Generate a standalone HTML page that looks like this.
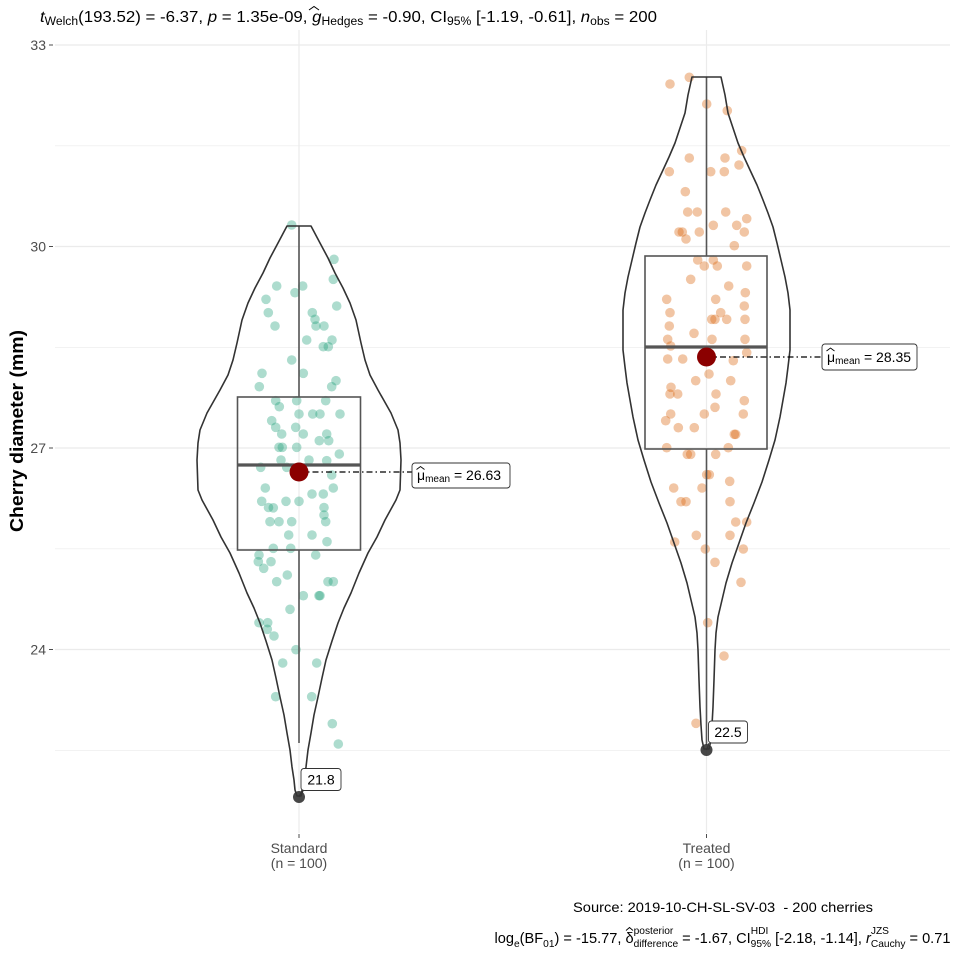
<!DOCTYPE html>
<html><head><meta charset="utf-8"><style>
html,body{margin:0;padding:0;background:#fff;}
svg{display:block;font-family:"Liberation Sans",Arial,sans-serif;}
</style></head><body>
<svg width="960" height="960" viewBox="0 0 960 960" xmlns="http://www.w3.org/2000/svg">
<rect width="960" height="960" fill="#fff"/>
<!-- grid -->
<g stroke="#ebebeb" fill="none">
<g stroke-width="0.6">
<line x1="55" y1="145.8" x2="950" y2="145.8"/>
<line x1="55" y1="347.3" x2="950" y2="347.3"/>
<line x1="55" y1="548.8" x2="950" y2="548.8"/>
<line x1="55" y1="750.3" x2="950" y2="750.3"/>
</g>
<g stroke-width="1.2">
<line x1="55" y1="45" x2="950" y2="45"/>
<line x1="55" y1="246.5" x2="950" y2="246.5"/>
<line x1="55" y1="448" x2="950" y2="448"/>
<line x1="55" y1="649.5" x2="950" y2="649.5"/>
<line x1="299" y1="30" x2="299" y2="833"/>
<line x1="706.5" y1="30" x2="706.5" y2="833"/>
</g>
</g>
<!-- ticks -->
<g stroke="#4d4d4d" stroke-width="1">
<line x1="49" y1="45" x2="53" y2="45"/>
<line x1="49" y1="246.5" x2="53" y2="246.5"/>
<line x1="49" y1="448" x2="53" y2="448"/>
<line x1="49" y1="649.5" x2="53" y2="649.5"/>
<line x1="299" y1="834" x2="299" y2="838"/>
<line x1="706.5" y1="834" x2="706.5" y2="838"/>
</g>
<g font-size="14" fill="#4d4d4d" text-anchor="end">
<text x="46" y="50">33</text>
<text x="46" y="251.5">30</text>
<text x="46" y="453">27</text>
<text x="46" y="654.5">24</text>
</g>
<g font-size="14" fill="#4d4d4d" text-anchor="middle">
<text x="299" y="853">Standard</text>
<text x="299" y="868">(n = 100)</text>
<text x="706.5" y="853">Treated</text>
<text x="706.5" y="868">(n = 100)</text>
</g>
<text transform="translate(23,431) rotate(-90)" text-anchor="middle" font-size="18" font-weight="bold" fill="#000" textLength="202" lengthAdjust="spacingAndGlyphs">Cherry diameter (mm)</text>

<!-- Standard points -->
<g fill="#1B9E77" fill-opacity="0.36">
<circle cx="291.7" cy="225" r="4.8"/><circle cx="334" cy="259.3" r="4.8"/><circle cx="333.3" cy="279.3" r="4.8"/><circle cx="276.7" cy="286" r="4.8"/><circle cx="295" cy="292.7" r="4.8"/><circle cx="302.7" cy="286" r="4.8"/><circle cx="266" cy="299.3" r="4.8"/><circle cx="336.7" cy="306" r="4.8"/><circle cx="268.3" cy="312.7" r="4.8"/><circle cx="312.3" cy="312.7" r="4.8"/><circle cx="315" cy="319.3" r="4.8"/><circle cx="316" cy="326" r="4.8"/><circle cx="324" cy="326" r="4.8"/><circle cx="275" cy="326" r="4.8"/><circle cx="306.7" cy="340" r="4.8"/><circle cx="332" cy="340" r="4.8"/><circle cx="323.3" cy="346.7" r="4.8"/><circle cx="328.3" cy="346.7" r="4.8"/><circle cx="291.7" cy="360" r="4.8"/><circle cx="262" cy="373.3" r="4.8"/><circle cx="303.3" cy="373.3" r="4.8"/><circle cx="336" cy="380.7" r="4.8"/><circle cx="259.3" cy="386.7" r="4.8"/><circle cx="331.7" cy="386.7" r="4.8"/><circle cx="275.7" cy="400.7" r="4.8"/><circle cx="296.7" cy="400.7" r="4.8"/><circle cx="325.7" cy="400.7" r="4.8"/><circle cx="279.3" cy="406.7" r="4.8"/><circle cx="299" cy="414" r="4.8"/><circle cx="312.7" cy="414" r="4.8"/><circle cx="320" cy="414" r="4.8"/><circle cx="340" cy="414" r="4.8"/><circle cx="271.7" cy="420.7" r="4.8"/><circle cx="275.7" cy="427.3" r="4.8"/><circle cx="295.7" cy="427.3" r="4.8"/><circle cx="281.7" cy="434" r="4.8"/><circle cx="303.3" cy="434" r="4.8"/><circle cx="326.7" cy="434" r="4.8"/><circle cx="319.3" cy="440.7" r="4.8"/><circle cx="328.7" cy="440.7" r="4.8"/><circle cx="279" cy="447.3" r="4.8"/><circle cx="282.3" cy="447.3" r="4.8"/><circle cx="296.7" cy="447.3" r="4.8"/><circle cx="339.3" cy="454" r="4.8"/><circle cx="281" cy="460" r="4.8"/><circle cx="309" cy="460" r="4.8"/><circle cx="326.7" cy="460.7" r="4.8"/><circle cx="260.7" cy="467.3" r="4.8"/><circle cx="286.7" cy="467.3" r="4.8"/><circle cx="331.7" cy="475" r="4.8"/><circle cx="265.3" cy="488" r="4.8"/><circle cx="312" cy="494" r="4.8"/><circle cx="323.3" cy="494" r="4.8"/><circle cx="333.3" cy="488" r="4.8"/><circle cx="261.7" cy="501.3" r="4.8"/><circle cx="286" cy="501.3" r="4.8"/><circle cx="299" cy="501.3" r="4.8"/><circle cx="268.5" cy="507.5" r="4.8"/><circle cx="273.3" cy="507.8" r="4.8"/><circle cx="324" cy="507.5" r="4.8"/>
<circle cx="324" cy="515" r="4.8"/><circle cx="270" cy="521.7" r="4.8"/><circle cx="279" cy="521.7" r="4.8"/><circle cx="291.7" cy="521.7" r="4.8"/><circle cx="325.7" cy="521.7" r="4.8"/><circle cx="288.7" cy="535" r="4.8"/><circle cx="312" cy="535" r="4.8"/><circle cx="327" cy="541.7" r="4.8"/><circle cx="273.3" cy="548.3" r="4.8"/><circle cx="290.7" cy="548.3" r="4.8"/><circle cx="259" cy="555" r="4.8"/><circle cx="315.7" cy="555" r="4.8"/><circle cx="258.3" cy="561.7" r="4.8"/><circle cx="271" cy="561.7" r="4.8"/><circle cx="263.7" cy="568.3" r="4.8"/><circle cx="287.3" cy="575" r="4.8"/><circle cx="276.7" cy="581.7" r="4.8"/><circle cx="328" cy="581.7" r="4.8"/><circle cx="333.3" cy="581.7" r="4.8"/><circle cx="303.3" cy="595.7" r="4.8"/><circle cx="319" cy="595.7" r="4.8"/><circle cx="320" cy="595.7" r="4.8"/><circle cx="290" cy="609.3" r="4.8"/><circle cx="259" cy="622.7" r="4.8"/><circle cx="267.7" cy="622.7" r="4.8"/><circle cx="267.3" cy="629.3" r="4.8"/><circle cx="274" cy="636" r="4.8"/><circle cx="296" cy="649.7" r="4.8"/><circle cx="282.7" cy="663" r="4.8"/><circle cx="316.7" cy="663" r="4.8"/><circle cx="275.7" cy="696.7" r="4.8"/><circle cx="311.7" cy="696.7" r="4.8"/><circle cx="332.3" cy="723.7" r="4.8"/><circle cx="338.3" cy="744" r="4.8"/>
</g>
<!-- Treated points -->
<g fill="#D95F02" fill-opacity="0.36">
<circle cx="670" cy="84" r="4.8"/><circle cx="689.3" cy="77.3" r="4.8"/><circle cx="706.7" cy="104" r="4.8"/><circle cx="727.3" cy="110.7" r="4.8"/><circle cx="741.7" cy="150.7" r="4.8"/><circle cx="689.3" cy="158" r="4.8"/><circle cx="725" cy="158" r="4.8"/><circle cx="669.3" cy="171.7" r="4.8"/><circle cx="710.7" cy="171.7" r="4.8"/><circle cx="724.3" cy="171.7" r="4.8"/><circle cx="739" cy="165" r="4.8"/><circle cx="685.3" cy="191.7" r="4.8"/><circle cx="687.7" cy="212" r="4.8"/><circle cx="697.3" cy="212" r="4.8"/><circle cx="725.7" cy="212" r="4.8"/><circle cx="746.7" cy="218.7" r="4.8"/><circle cx="713.3" cy="225.3" r="4.8"/><circle cx="736.7" cy="225.3" r="4.8"/><circle cx="679" cy="232" r="4.8"/><circle cx="682.3" cy="232" r="4.8"/><circle cx="699.3" cy="232" r="4.8"/><circle cx="744.3" cy="232" r="4.8"/><circle cx="686" cy="239" r="4.8"/><circle cx="734.3" cy="245.7" r="4.8"/><circle cx="697.7" cy="260" r="4.8"/><circle cx="704.3" cy="266" r="4.8"/><circle cx="713.3" cy="260" r="4.8"/><circle cx="717.3" cy="266" r="4.8"/><circle cx="746.7" cy="266" r="4.8"/><circle cx="690.7" cy="279.3" r="4.8"/><circle cx="728.7" cy="286" r="4.8"/><circle cx="745.3" cy="292.7" r="4.8"/><circle cx="666.7" cy="299.3" r="4.8"/><circle cx="715.7" cy="299.3" r="4.8"/><circle cx="744.3" cy="306" r="4.8"/><circle cx="670" cy="312.7" r="4.8"/><circle cx="720.7" cy="312.7" r="4.8"/><circle cx="711.7" cy="319.3" r="4.8"/><circle cx="715" cy="319.3" r="4.8"/><circle cx="726.7" cy="319.3" r="4.8"/><circle cx="745" cy="319.3" r="4.8"/><circle cx="669.3" cy="326" r="4.8"/><circle cx="694" cy="333.3" r="4.8"/><circle cx="667.7" cy="339.3" r="4.8"/><circle cx="712" cy="339.3" r="4.8"/><circle cx="745" cy="339.3" r="4.8"/><circle cx="670.7" cy="346" r="4.8"/><circle cx="746.7" cy="352.7" r="4.8"/><circle cx="667.7" cy="359" r="4.8"/><circle cx="682.7" cy="359" r="4.8"/><circle cx="733.3" cy="360.7" r="4.8"/><circle cx="709" cy="374" r="4.8"/><circle cx="695.7" cy="380.7" r="4.8"/><circle cx="730.7" cy="380.7" r="4.8"/><circle cx="671" cy="387.3" r="4.8"/><circle cx="670" cy="394" r="4.8"/><circle cx="677.7" cy="394" r="4.8"/><circle cx="716" cy="394" r="4.8"/><circle cx="744.3" cy="400.7" r="4.8"/><circle cx="715" cy="407.3" r="4.8"/><circle cx="670.7" cy="414" r="4.8"/><circle cx="704.3" cy="414" r="4.8"/><circle cx="743.3" cy="414" r="4.8"/><circle cx="665.7" cy="420.7" r="4.8"/><circle cx="678.3" cy="427.7" r="4.8"/><circle cx="694.3" cy="427.7" r="4.8"/><circle cx="734.3" cy="434.3" r="4.8"/><circle cx="735.7" cy="434.3" r="4.8"/><circle cx="666.7" cy="447.7" r="4.8"/><circle cx="728.3" cy="447.7" r="4.8"/><circle cx="687.3" cy="454.3" r="4.8"/><circle cx="690.7" cy="454.3" r="4.8"/><circle cx="715.7" cy="454.3" r="4.8"/><circle cx="706.7" cy="474.7" r="4.8"/><circle cx="709.3" cy="474.7" r="4.8"/><circle cx="673.7" cy="488" r="4.8"/><circle cx="702" cy="488" r="4.8"/><circle cx="729.7" cy="481.3" r="4.8"/><circle cx="681" cy="501.7" r="4.8"/><circle cx="686" cy="501.7" r="4.8"/><circle cx="730" cy="501.7" r="4.8"/><circle cx="735.7" cy="522" r="4.8"/><circle cx="746.7" cy="522" r="4.8"/><circle cx="696.3" cy="535.3" r="4.8"/><circle cx="730" cy="535.3" r="4.8"/><circle cx="674.7" cy="542" r="4.8"/><circle cx="705.3" cy="549" r="4.8"/><circle cx="743.3" cy="549" r="4.8"/><circle cx="715" cy="562.3" r="4.8"/><circle cx="741" cy="582.3" r="4.8"/><circle cx="707.7" cy="622.7" r="4.8"/><circle cx="724" cy="656" r="4.8"/><circle cx="696" cy="723.3" r="4.8"/>
</g>

<!-- boxplots -->
<g stroke="#555" stroke-width="1.6" fill="none">
<line x1="299" y1="226" x2="299" y2="397"/>
<line x1="299" y1="550" x2="299" y2="743"/>
<rect x="237.5" y="397" width="123" height="153"/>
<line x1="706.5" y1="77" x2="706.5" y2="256"/>
<line x1="706.5" y1="449" x2="706.5" y2="745"/>
<rect x="645" y="256" width="122" height="193"/>
</g>
<g stroke="#555" stroke-width="3.2">
<line x1="237.5" y1="465" x2="360.5" y2="465"/>
<line x1="645" y1="347" x2="767" y2="347"/>
</g>

<!-- violins -->
<g stroke="#333" stroke-width="1.6" fill="none" stroke-linejoin="round">
<polygon points="287,226 278,243 270,258 263,273 255,288 248,303 242,320 237,343 233,360 228,375 220,390 207,413 200,430 198,443 197,460 198,490 202,500 213,520 221,537 230,553 239,573 247,593 254,608 260,623 266,641 272,660 276,678 280,697 284,715 287,733 290,750 292,767 294,780 295,790 297,796 301,796 303,790 304,780 306,767 308,750 311,733 314,715 318,697 322,678 326,660 332,641 338,623 344,608 351,593 359,573 368,553 377,537 385,520 396,500 400,490 401,460 400,443 398,430 391,413 378,390 370,375 365,360 361,343 356,320 350,303 343,288 335,273 328,258 320,243 311,226"/>
<polygon points="692,77 688,95 685,113 680,128 675,143 669,157 663,170 656,185 650,200 645,213 640,227 636,243 632,260 628,277 625,293 623,310 623,327 623,350 625,367 627,383 630,400 633,417 638,440 644,460 651,482 659,503 667,523 674,543 681,563 687,583 691,600 695,617 697,633 698,650 699,680 700,707 701,725 702,740 704,749 709,749 711,740 712,725 713,707 714,680 715,650 716,633 718,617 722,600 726,583 732,563 739,543 746,523 754,503 762,482 769,460 775,440 780,417 783,400 786,383 788,367 790,350 790,327 790,310 788,293 785,277 781,260 777,243 773,227 768,213 763,200 757,185 750,170 744,157 738,143 733,128 728,113 725,95 721,77"/>
</g>

<!-- min points & labels -->
<circle cx="299" cy="797" r="6" fill="#333" fill-opacity="0.9"/>
<circle cx="706.5" cy="750" r="6" fill="#333" fill-opacity="0.9"/>
<line x1="299" y1="797" x2="302" y2="790" stroke="#333" stroke-width="1"/>
<line x1="706.5" y1="750" x2="709" y2="743" stroke="#333" stroke-width="1"/>
<rect x="301" y="768.5" width="40" height="22" rx="3" fill="#fff" stroke="#333" stroke-width="0.9"/>
<text x="321" y="784.5" font-size="14" text-anchor="middle" fill="#000">21.8</text>
<rect x="708.5" y="721" width="39" height="22" rx="3" fill="#fff" stroke="#333" stroke-width="0.9"/>
<text x="728" y="737" font-size="14" text-anchor="middle" fill="#000">22.5</text>

<!-- mean lines -->
<g stroke="#000" stroke-width="1.3" stroke-dasharray="6,3,1.5,3">
<line x1="299" y1="472" x2="412" y2="472"/>
<line x1="706.5" y1="357" x2="822" y2="357"/>
</g>
<circle cx="299" cy="472" r="9.5" fill="#8B0000"/>
<circle cx="706.5" cy="357" r="9.5" fill="#8B0000"/>

<!-- mean labels -->
<rect x="412" y="463" width="98" height="25" rx="3" fill="#fff" stroke="#333" stroke-width="0.9"/>
<polyline points="416.5,469.5 420.5,466.5 424.5,469.5" fill="none" stroke="#000" stroke-width="0.9"/>
<text x="417" y="480" font-size="14" fill="#000">μ<tspan font-size="10" dy="2">mean</tspan><tspan dy="-2" font-size="14"> = 26.63</tspan></text>
<rect x="822" y="344" width="95" height="26" rx="3" fill="#fff" stroke="#333" stroke-width="0.9"/>
<polyline points="826.5,351 830.5,348 834.5,351" fill="none" stroke="#000" stroke-width="0.9"/>
<text x="827" y="362" font-size="14" fill="#000">μ<tspan font-size="10" dy="2">mean</tspan><tspan dy="-2" font-size="14"> = 28.35</tspan></text>

<!-- title -->
<text x="40" y="22" font-size="16" fill="#000" textLength="617" lengthAdjust="spacingAndGlyphs"><tspan font-style="italic">t</tspan><tspan font-size="11.5" dy="3">Welch</tspan><tspan dy="-3">(193.52) = -6.37, </tspan><tspan font-style="italic">p</tspan><tspan> = 1.35e-09, </tspan><tspan font-style="italic">g</tspan><tspan font-size="11.5" dy="3">Hedges</tspan><tspan dy="-3"> = -0.90, CI</tspan><tspan font-size="11.5" dy="3">95%</tspan><tspan dy="-3"> [-1.19, -0.61], </tspan><tspan font-style="italic">n</tspan><tspan font-size="11.5" dy="3">obs</tspan><tspan dy="-3"> = 200</tspan></text>
<polyline points="309,10 314,6.5 319,10" fill="none" stroke="#000" stroke-width="1"/>

<!-- caption -->
<text x="573" y="912" font-size="14" fill="#000" textLength="300" lengthAdjust="spacingAndGlyphs">Source: 2019-10-CH-SL-SV-03&#160; - 200 cherries</text>
<text x="494.5" y="943" font-size="14.6" fill="#000">log<tspan font-size="10.2" dy="4">e</tspan><tspan dy="-4">(BF</tspan><tspan font-size="10.2" dy="4">01</tspan><tspan dy="-4">) = -15.77, δ</tspan><tspan font-size="10.2" dy="-9">posterior</tspan><tspan font-size="10.2" dx="-39.7" dy="13">difference</tspan><tspan dy="-4"> = -1.67, CI</tspan><tspan font-size="10.2" dy="-9">HDI</tspan><tspan font-size="10.2" dx="-17.6" dy="13">95%</tspan><tspan dy="-4"> [-2.18, -1.14], </tspan><tspan font-style="italic">r</tspan><tspan font-size="10.2" dy="-9">JZS</tspan><tspan font-size="10.2" dx="-18.1" dy="13">Cauchy</tspan><tspan dy="-4"> = 0.71</tspan></text>
<polyline points="626,930.5 629.5,927.5 633,930.5" fill="none" stroke="#000" stroke-width="0.9"/>
</svg>
</body></html>
